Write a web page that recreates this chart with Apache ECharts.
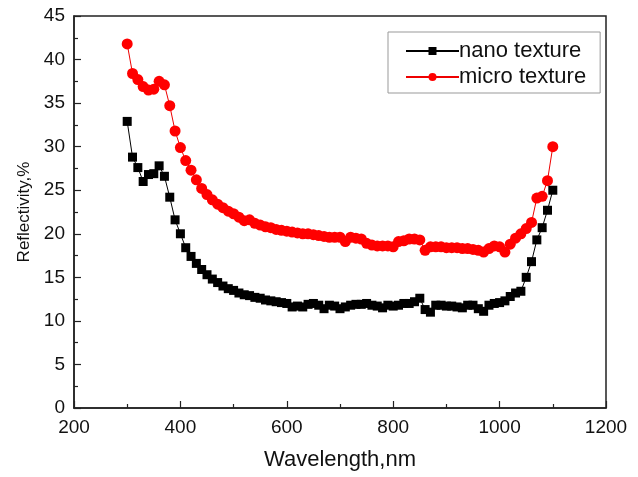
<!DOCTYPE html>
<html>
<head>
<meta charset="utf-8">
<title>Reflectivity</title>
<script src="https://cdn.jsdelivr.net/npm/echarts@6/dist/echarts.min.js"></script>
<style>
    html, body { margin: 0; padding: 0; background: #fff; }
    .chart { width: 638px; height: 477px; }
</style>
</head>
<body>
<div class="chart"></div>
<script>
// 波长 300-1100 nm, 步长 10
var wavelength = [300, 310, 320, 330, 340, 350, 360, 370, 380, 390,
    400, 410, 420, 430, 440, 450, 460, 470, 480, 490,
    500, 510, 520, 530, 540, 550, 560, 570, 580, 590,
    600, 610, 620, 630, 640, 650, 660, 670, 680, 690,
    700, 710, 720, 730, 740, 750, 760, 770, 780, 790,
    800, 810, 820, 830, 840, 850, 860, 870, 880, 890,
    900, 910, 920, 930, 940, 950, 960, 970, 980, 990,
    1000, 1010, 1020, 1030, 1040, 1050, 1060, 1070, 1080, 1090, 1100];

var nanoTexture = [32.9, 28.8, 27.6, 26.0, 26.8, 26.9, 27.8, 26.6, 24.2, 21.6,
    20.0, 18.4, 17.4, 16.6, 15.9, 15.3, 14.8, 14.4, 14.0, 13.7,
    13.5, 13.2, 13.0, 12.9, 12.7, 12.6, 12.4, 12.3, 12.2, 12.1,
    12.0, 11.6, 11.7, 11.6, 11.9, 12.0, 11.8, 11.4, 11.8, 11.7,
    11.4, 11.6, 11.8, 11.9, 11.9, 12.0, 11.8, 11.7, 11.5, 11.8,
    11.7, 11.8, 12.0, 12.0, 12.2, 12.6, 11.3, 11.0, 11.8, 11.8,
    11.7, 11.7, 11.6, 11.5, 11.8, 11.8, 11.4, 11.1, 11.8, 12.0,
    12.1, 12.3, 12.8, 13.2, 13.4, 15.0, 16.8, 19.3, 20.7, 22.7, 25.0];

var microTexture = [41.8, 38.4, 37.7, 36.9, 36.5, 36.6, 37.5, 37.1, 34.7, 31.8,
    29.9, 28.4, 27.3, 26.2, 25.2, 24.5, 23.9, 23.4, 23.0, 22.6,
    22.3, 21.9, 21.5, 21.6, 21.2, 21.0, 20.8, 20.7, 20.5, 20.4,
    20.3, 20.2, 20.1, 20.0, 20.0, 19.9, 19.8, 19.7, 19.6, 19.6,
    19.6, 19.1, 19.6, 19.5, 19.4, 18.9, 18.7, 18.6, 18.6, 18.6,
    18.5, 19.1, 19.2, 19.4, 19.4, 19.3, 18.1, 18.5, 18.5, 18.5,
    18.4, 18.4, 18.4, 18.3, 18.3, 18.2, 18.1, 17.9, 18.3, 18.6,
    18.5, 17.9, 18.8, 19.5, 20.0, 20.6, 21.3, 24.1, 24.3, 26.1, 30.0];

var xTicks = [200, 400, 600, 800, 1000, 1200];
var yTicks = [0, 5, 10, 15, 20, 25, 30, 35, 40, 45];

function pairs(xs, ys) {
    return xs.map(function (x, i) { return [x, ys[i]]; });
}

var myChart = echarts.init(document.querySelector(".chart"));
var fontFamily = "'Liberation Sans', Arial, sans-serif";

var option = {
    backgroundColor: "#fff",
    animation: false,
    textStyle: { fontFamily: fontFamily },
    // 坐标系位置, 四周边框
    grid: {
        left: 74,
        right: 32,
        top: 16,
        bottom: 69,
        show: true,
        borderColor: "#222",
        borderWidth: 1.5
    },
    legend: {
        orient: "vertical",
        left: 388,
        top: 32,
        padding: [8, 14, 5, 17],
        itemGap: 4,
        itemWidth: 53,
        itemHeight: 10,
        borderColor: "#999",
        borderWidth: 1,
        textStyle: { color: "#111", fontSize: 22, fontFamily: fontFamily, padding: [0, 0, 0, -5] },
        data: ["nano texture", "micro texture"]
    },
    xAxis: {
        type: "value",
        min: xTicks[0],
        max: xTicks[xTicks.length - 1],
        interval: 200,
        name: "Wavelength,nm",
        nameLocation: "middle",
        nameGap: 41,
        nameTextStyle: { color: "#111", fontSize: 22, fontFamily: fontFamily },
        axisLine: { lineStyle: { color: "#222", width: 1.5 } },
        axisTick: { inside: true, length: 7, lineStyle: { color: "#222", width: 1.2 } },
        minorTick: { show: true, splitNumber: 2, length: 4, lineStyle: { color: "#222", width: 1.2 } },
        axisLabel: {
            color: "#111", fontSize: 19, margin: 10, fontFamily: fontFamily,
            formatter: function (v) { return String(v); }
        },
        splitLine: { show: false }
    },
    yAxis: {
        type: "value",
        min: yTicks[0],
        max: yTicks[yTicks.length - 1],
        interval: 5,
        name: "Reflectivity,%",
        nameLocation: "middle",
        nameGap: 40,
        nameTextStyle: { color: "#111", fontSize: 17, fontFamily: fontFamily },
        axisLine: { lineStyle: { color: "#222", width: 1.5 } },
        axisTick: { inside: true, length: 7, lineStyle: { color: "#222", width: 1.2 } },
        minorTick: { show: true, splitNumber: 2, length: 4, lineStyle: { color: "#222", width: 1.2 } },
        axisLabel: { color: "#111", fontSize: 19, margin: 9, fontFamily: fontFamily },
        splitLine: { show: false }
    },
    series: [
        {
            name: "nano texture",
            type: "line",
            symbol: "rect",
            symbolSize: 9,
            showAllSymbol: true,
            lineStyle: { color: "#000", width: 1 },
            itemStyle: { color: "#000" },
            data: pairs(wavelength, nanoTexture),
            z: 3
        },
        {
            name: "micro texture",
            type: "line",
            symbol: "circle",
            symbolSize: 11,
            showAllSymbol: true,
            lineStyle: { color: "#e00", width: 1 },
            itemStyle: { color: "#f00" },
            data: pairs(wavelength, microTexture),
            z: 2
        }
    ]
};

myChart.setOption(option);
window.addEventListener("resize", function () {
    myChart.resize();
});
</script>
</body>
</html>
